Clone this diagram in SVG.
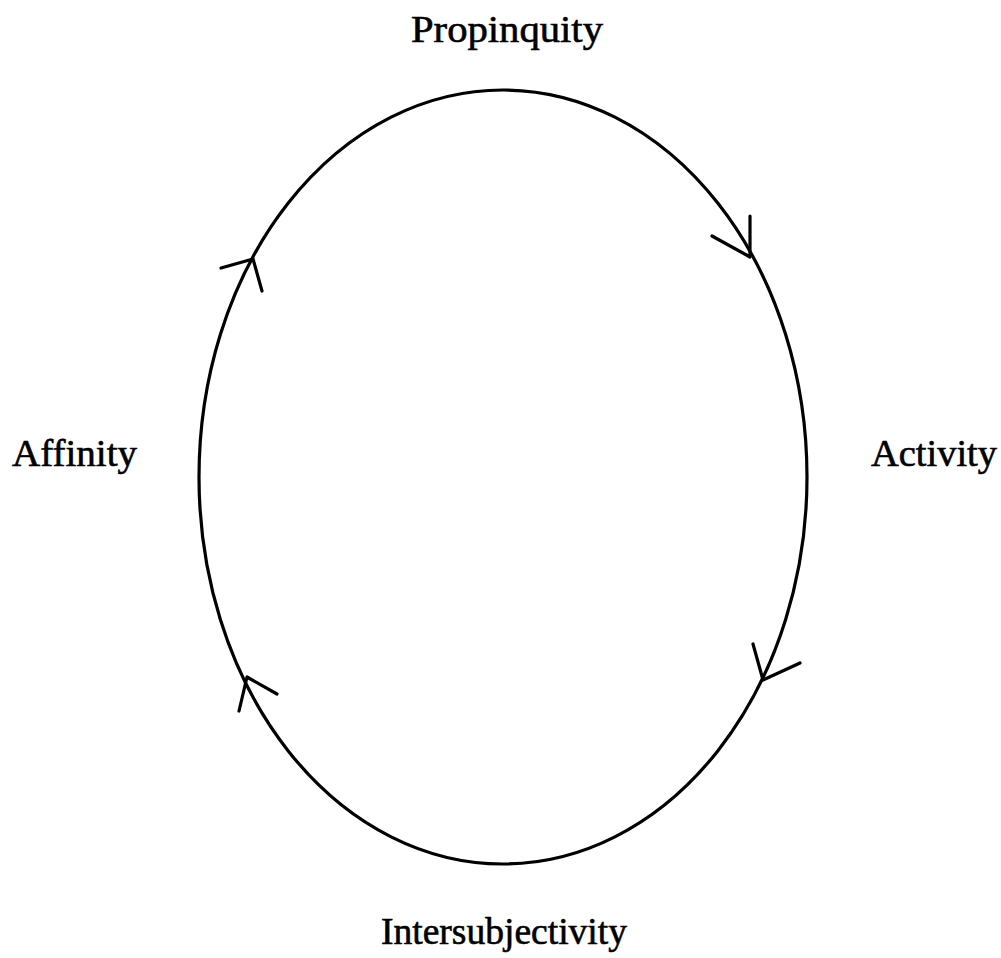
<svg xmlns="http://www.w3.org/2000/svg" width="1001" height="958" viewBox="0 0 1001 958">
<style>
.lbl{font-family:"Liberation Serif","DejaVu Serif",serif;font-size:37px;fill:#000;stroke:#000;stroke-width:0.6}
.ln{fill:none;stroke:#000;stroke-width:3.2;stroke-linecap:round;stroke-linejoin:round}
</style>
<rect width="1001" height="958" fill="#fff"/>
<g id="connectors">
<ellipse class="ln" cx="503" cy="477" rx="304" ry="387"/>
<polyline class="ln" points="712,236 750,257 750,216"/>
<polyline class="ln" points="753,644 763,680 800,663"/>
<polyline class="ln" points="277,694 247,677 239,711"/>
<polyline class="ln" points="221,268 253,259 262,291"/>
</g>
<g id="propinquity"><text class="lbl" x="411" y="42" textLength="192" lengthAdjust="spacingAndGlyphs">Propinquity</text></g>
<g id="activity"><text class="lbl" x="871" y="466" textLength="126" lengthAdjust="spacingAndGlyphs">Activity</text></g>
<g id="intersubjectivity"><text class="lbl" x="381" y="944" textLength="246" lengthAdjust="spacingAndGlyphs">Intersubjectivity</text></g>
<g id="affinity"><text class="lbl" x="12" y="466" textLength="125" lengthAdjust="spacingAndGlyphs">Affinity</text></g>
</svg>
